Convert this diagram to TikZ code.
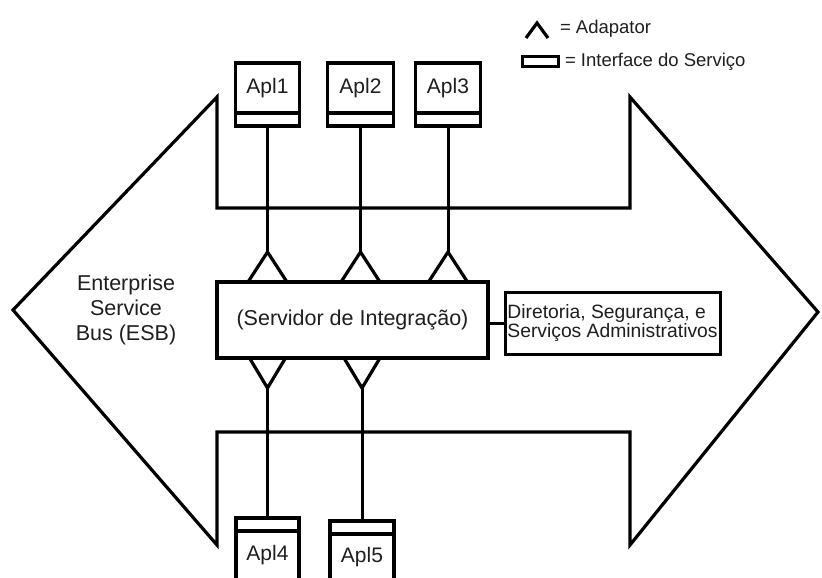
\documentclass[tikz,border=0pt]{standalone}
\usepackage{fontspec}
\setmainfont{Liberation Sans}
\usetikzlibrary{calc}
\definecolor{ink}{HTML}{1E1E1E}
\begin{document}
\begin{tikzpicture}[x=1pt,y=-1pt,
  every node/.style={outer sep=0pt},
  heavy/.style={line width=3.2pt, line join=miter, draw=black},
  wire/.style={line width=3pt, draw=black},
  appbox/.style={draw=black, line width=3.2pt, rectangle, inner sep=0pt,
    font=\fontsize{21}{24}\selectfont, text=ink},
  iface/.style={draw=black, line width=3.2pt, rectangle, inner sep=0pt, minimum height=13},
  txt/.style={inner sep=0pt, text=ink},
  legend/.style={inner sep=0pt, text=ink, font=\fontsize{18.5}{20}\selectfont}
]
\useasboundingbox (0,0) rectangle (822,578);
\clip (0,0) rectangle (822,578);

% the bus: a double-headed block arrow
\draw[heavy] (13,310) -- (217,97) -- (217,208) -- (630,208) -- (630,97)
  -- (818,312) -- (630,545) -- (630,432) -- (217,432) -- (217,545) -- cycle;

\node[txt, align=center, font=\fontsize{21.5}{25}\selectfont] (esb) at (126,310)
  {Enterprise\\Service\\Bus (ESB)};

% integration server and its side box
\node[draw=black, line width=3.2pt, minimum width=271, minimum height=76, inner sep=0pt,
  text=ink, font=\fontsize{21.5}{24}\selectfont] (srv) at (352.5,320)
  {\raisebox{-2pt}{(Servidor de Integração)}};
\node[draw=black, line width=3pt, minimum width=215, minimum height=62, inner sep=2pt,
  align=left, text=ink, font=\fontsize{19.3}{18}\selectfont] (dir) at (612.5,323)
  {Diretoria, Segurança, e\\Serviços Administrativos};
\draw[wire] (dir.west -| srv.east) -- (dir.west);

% applications above the bus
\node[appbox, minimum width=64, minimum height=50] (apl1) at (267.5,88) {Apl1};
\node[iface, minimum width=64, anchor=north] (if1) at (apl1.south) {};
\node[appbox, minimum width=66, minimum height=50] (apl2) at (360.5,88) {Apl2};
\node[iface, minimum width=66, anchor=north] (if2) at (apl2.south) {};
\node[appbox, minimum width=65, minimum height=50] (apl3) at (448,88) {Apl3};
\node[iface, minimum width=65, anchor=north] (if3) at (apl3.south) {};

% adapters on top of the server
\coordinate (ad1) at (267.5,252);
\coordinate (ad2) at (360.5,252);
\coordinate (ad3) at (448,252);
\foreach \a in {ad1,ad2,ad3}
  \draw[heavy] (\a) ++(-19.5,30) -- (\a) -- ++(19.5,30);
\draw[wire] (if1) -- (ad1);
\draw[wire] (if2) -- (ad2);
\draw[wire] (if3) -- (ad3);

% applications below the bus
\node[iface, minimum width=63, anchor=north] (if4) at (267.5,518) {};
\node[appbox, minimum width=63, minimum height=60, anchor=north] (apl4) at (if4.south) {};
\node[txt, anchor=base, font=\fontsize{21}{24}\selectfont] (t4) at (267.5,560) {Apl4};
\node[iface, minimum width=64, anchor=north] (if5) at (362,521) {};
\node[appbox, minimum width=64, minimum height=60, anchor=north] (apl5) at (if5.south) {};
\node[txt, anchor=base, font=\fontsize{21}{24}\selectfont] (t5) at (362,562) {Apl5};

% adapters under the server
\coordinate (ad4) at (267.5,388);
\coordinate (ad5) at (362,388);
\foreach \a in {ad4,ad5}
  \draw[heavy] (\a) ++(-18,-30) -- (\a) -- ++(18,-30);
\draw[wire] (ad4) -- (if4);
\draw[wire] (ad5) -- (if5);

% legend
\coordinate (lgA) at (537,23);
\draw[heavy] (lgA) ++(-11,15) -- (lgA) -- ++(11,15);
\node[legend, anchor=west] (lgAt) at (560,29) {= Adapator};
\node[draw=black, line width=3pt, minimum width=36, minimum height=10, inner sep=0pt] (lgI) at (540,62) {};
\node[legend, anchor=west] (lgIt) at (565,62) {= Interface do Serviço};
\end{tikzpicture}
\end{document}
